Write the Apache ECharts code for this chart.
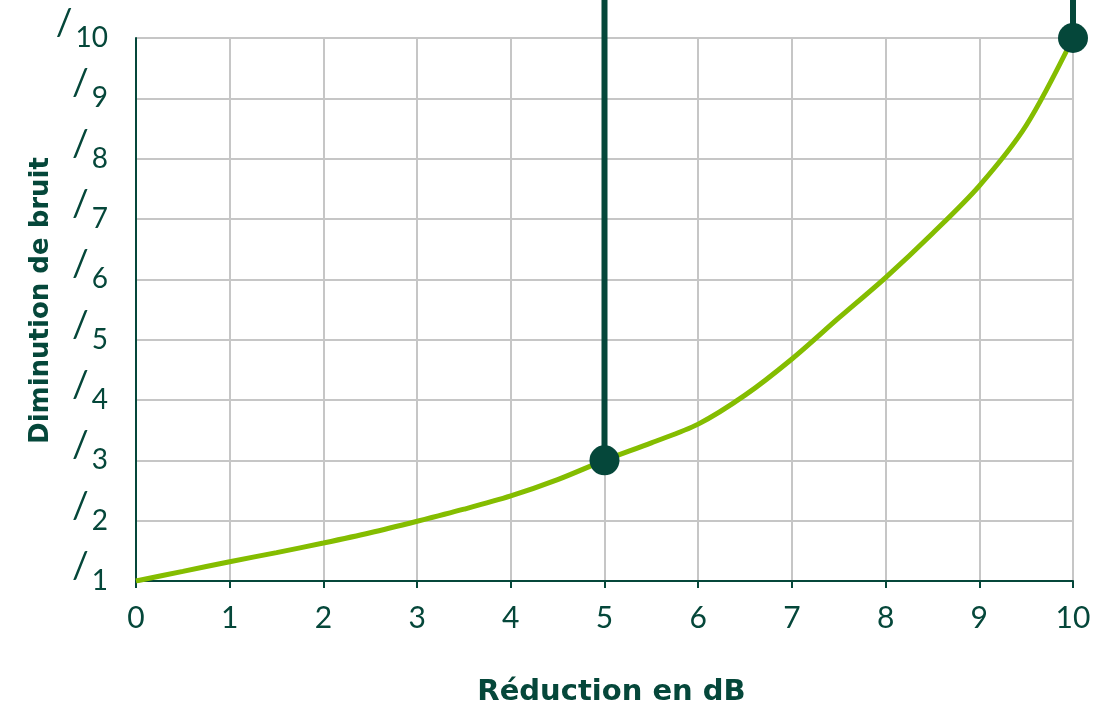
<!DOCTYPE html>
<html>
<head>
<meta charset="utf-8">
<script src="https://cdn.jsdelivr.net/npm/echarts@6/dist/echarts.min.js"></script>
<style>
html,body{margin:0;padding:0;background:#fff;}
#chart{width:1115px;height:704px;}
</style>
</head>
<body>
<div id="chart"></div>
<script>
// ---- data ----
const xValues = [0, 0.5, 1, 1.5, 2, 2.5, 3, 3.5, 4, 4.5, 5, 5.5, 6, 6.5, 7, 7.5, 8, 8.5, 9, 9.5, 10];
const yValues = [1, 1.16, 1.32, 1.47, 1.63, 1.80, 1.99, 2.19, 2.41, 2.68, 3.0, 3.29, 3.6, 4.08, 4.68, 5.36, 6.03, 6.76, 7.55, 8.55, 10];
const markedX = [5, 10];
const markedY = [3, 10];
const stemTop = 10.7;
const xAxisTitle = 'Réduction en dB';
const yAxisTitle = 'Diminution de bruit';

const DARK = '#05473a';
const GREEN = '#84bd00';
const GRID = '#c6c6c6';
const FONT = 'Lato';
const TITLE_FONT = 'DejaVu Sans';

const curve = xValues.map((x, i) => [x, yValues[i]]);
const points = markedX.map((x, i) => [x, markedY[i]]);

const stemSeries = markedX.map((x, i) => ({
  type: 'line',
  data: [[x, markedY[i]], [x, stemTop]],
  showSymbol: false,
  symbol: 'none',
  clip: false,
  silent: true,
  z: 3,
  lineStyle: { color: DARK, width: 6 }
}));

const chart = echarts.init(document.getElementById('chart'));
chart.setOption({
  animation: false,
  backgroundColor: '#fff',
  grid: { left: 136, right: 42, top: 38, bottom: 123, outerBoundsMode: 'none', containLabel: false },
  xAxis: {
    type: 'value', min: 0, max: 10, interval: 1,
    name: xAxisTitle, nameLocation: 'middle', nameGap: 97,
    nameTextStyle: { color: DARK, fontFamily: TITLE_FONT, fontWeight: 'bold', fontSize: 29, padding: [0, 0, 0, 14] },
    axisLine: { show: true, onZero: false, lineStyle: { color: DARK, width: 2 } },
    axisTick: { show: true, length: 7, lineStyle: { color: DARK, width: 2 } },
    axisLabel: { color: DARK, fontFamily: FONT, fontSize: 30, margin: 22, showMinLabel: true, showMaxLabel: true },
    splitLine: { show: true, lineStyle: { color: GRID, width: 2 } }
  },
  yAxis: [
    {
      type: 'value', min: 1, max: 10, interval: 1, position: 'left',
      name: yAxisTitle, nameLocation: 'middle', nameGap: 82, nameRotate: 90,
      nameTextStyle: { color: DARK, fontFamily: TITLE_FONT, fontWeight: 'bold', fontSize: 26, padding: [0, 0, 0, 18] },
      axisLine: { show: true, onZero: false, lineStyle: { color: DARK, width: 2 } },
      axisTick: { show: false },
      axisLabel: {
        margin: 28, color: DARK, fontFamily: FONT, fontSize: 28,
        showMinLabel: true, showMaxLabel: true
      },
      splitLine: { show: true, lineStyle: { color: GRID, width: 2 } }
    },
    {
      // slash prefix of each tick label, raised above the number
      type: 'value', min: 1, max: 10, interval: 1, position: 'left',
      axisLine: { show: false, onZero: false },
      axisTick: { show: false },
      splitLine: { show: false },
      axisLabel: {
        margin: 28,
        verticalAlign: 'bottom',
        showMinLabel: true, showMaxLabel: true,
        formatter: v => '{s|/}{h|' + v + '}',
        rich: {
          s: { color: DARK, fontFamily: FONT, fontSize: 37, lineHeight: 30, padding: [0, 3, 0, 0] },
          h: { color: 'rgba(0,0,0,0)', fontFamily: FONT, fontSize: 28, lineHeight: 30 }
        }
      }
    }
  ],
  series: [
    {
      type: 'line',
      data: curve,
      smooth: 0.3,
      showSymbol: false,
      symbol: 'none',
      z: 2,
      lineStyle: { color: GREEN, width: 5 }
    },
    ...stemSeries,
    {
      type: 'scatter',
      data: points,
      symbolSize: 30,
      clip: false,
      z: 4,
      itemStyle: { color: DARK, opacity: 1 }
    }
  ]
});
</script>
</body>
</html>
